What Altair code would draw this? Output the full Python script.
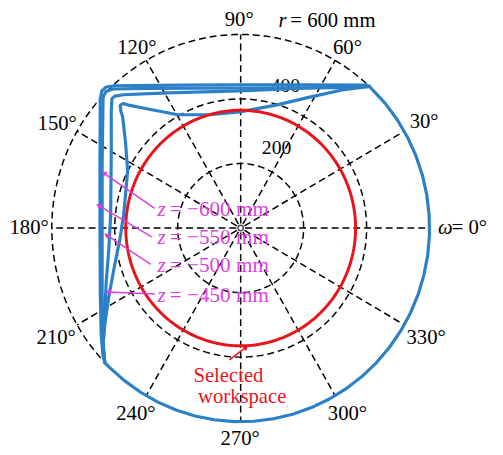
import math
import altair as alt
import pandas as pd
import numpy as np

# ---------------- data (mm, polar plot shown in Cartesian mm) ----------------
ring_r = [200, 400, 600]
spoke_deg = [0, 30, 60, 90, 120, 150, 180, 210, 240, 270, 300, 330]
ring_label_text = ["200", "400"]
ring_label_x = [114.1, 142.2]
ring_label_y = [247.0, 440.0]

angle_text = ["90°", "60°", "30°", "330°", "300°", "270°", "240°", "210°", "180°", "150°", "120°"]
angle_x = [-4.7, 339.1, 582.8, 589.1, 339.1, -1.6, -332.8, -585.9, -672.0, -582.8, -329.7]
angle_y = [645.0, 557.9, 329.3, -341.5, -576.2, -655.5, -576.2, -341.5, 0.0, 323.2, 557.9]

# outer reach boundary (shared by all z levels): omega in deg, r in mm
arc_omega = [47, 40, 34, 28, 22, 16, 10, 4, -2, -8, -14, -20, -26, -32, -38, -44, -50,
             -56, -62, -68, -74, -80, -86, -92, -98, -104, -110, -116, -122, -128, -134, -136]
arc_r = [600] * len(arc_omega)

# inner (cut) boundaries for each z level, Cartesian mm
zA_x = [409.2, 400, 200, 0, -200, -400, -428, -441, -446, -447, -447, -446, -443, -438, -431.6]
zA_y = [438.8, 443, 444, 444, 443, 441, 437, 425, 400, 200, 0, -200, -330, -390, -416.8]
zB_x = [409.2, 300, 0, -300, -405, -428, -437, -440, -440, -440, -438, -434, -431.6]
zB_y = [438.8, 435, 434, 433, 431, 423, 405, 200, 0, -200, -340, -400, -416.8]
zC_x = [409.2, 216, -3, -231, -372, -400, -409, -411, -411, -413, -419, -427, -434, -437, -431.6]
zC_y = [438.8, 434, 425, 419, 413, 409, 401, 360, 238, 40, -67, -165, -311, -372, -416.8]
zD_x = [409.2, 322, 216, 112, -3, -97, -200, -294, -356, -374, -383, -380, -375, -366,
        -359, -366, -372, -384, -400, -419, -431, -437, -431.6]
zD_y = [438.8, 428, 405, 381, 360, 351, 351, 369, 381, 386, 380, 360, 345, 268,
        177, 101, 40, -37, -113, -213, -296, -357, -416.8]

selected_r = 365

z_labels = ["= −600 mm", "= −550 mm", "= −500 mm", "= −450 mm"]
z_label_y = [54.9, -30.5, -118.9, -210.4]
z_italic_x = -264.0
z_rest_x = -225.0
z_arrow_x0 = [-273.4, -282.8, -285.9, -273.4]
z_arrow_y0 = [61.0, -27.4, -112.8, -204.3]
z_arrow_x1 = [-435.9, -451.6, -426.6, -420.3]
z_arrow_y1 = [170.7, 70.1, -21.3, -198.2]

ws_text = ["Selected", "workspace"]
ws_x = [-39.0, 4.7]
ws_y = [-457.3, -524.4]
ws_arrow = [(-35.9, -408.5), (17.2, -368.9)]

# ---------------- layout ----------------
W, H = 495, 447
PXX, PXY = 0.32, 0.328          # px per mm horizontally / vertically
XMIN = -236.5 / PXX
XMAX = XMIN + W / PXX
YMAX = 220.0 / PXY
YMIN = YMAX - H / PXY

xs = alt.Scale(domain=[XMIN, XMAX], nice=False, zero=False)
ys = alt.Scale(domain=[YMIN, YMAX], nice=False, zero=False)
FONT = "Liberation Serif"
BLUE = "#2b80c8"
RED = "#e8141c"
MAG = "#dc3fdc"


def X(f="x"):
    return alt.X(f"{f}:Q", scale=xs, axis=None)


def Y(f="y"):
    return alt.Y(f"{f}:Q", scale=ys, axis=None)


# grid rings
rows = []
for r in ring_r:
    for i, a in enumerate(range(0, 361, 2)):
        t = math.radians(a)
        rows.append({"g": r, "i": i, "x": r * math.cos(t), "y": r * math.sin(t)})
rings = pd.DataFrame(rows)
ring_layer = alt.Chart(rings).mark_line(color="black", strokeWidth=1.5, strokeDash=[7, 4]).encode(
    x=X(), y=Y(), detail="g:N", order="i:Q")

# spokes
sp = []
for a in spoke_deg:
    t = math.radians(a)
    sp.append({"g": a, "i": 0, "x": 14 * math.cos(t), "y": 14 * math.sin(t)})
    sp.append({"g": a, "i": 1, "x": 600 * math.cos(t), "y": 600 * math.sin(t)})
spokes = pd.DataFrame(sp)
spoke_layer = alt.Chart(spokes).mark_line(color="black", strokeWidth=1.5, strokeDash=[7, 4]).encode(
    x=X(), y=Y(), detail="g:N", order="i:Q")

center_layer = alt.Chart(pd.DataFrame({"x": [0.0], "y": [0.0]})).mark_point(
    shape="circle", size=30, filled=False, color="black", strokeWidth=1.5).encode(x=X(), y=Y())

# ring labels
rl = pd.DataFrame({"x": ring_label_x, "y": ring_label_y, "t": ring_label_text})
ring_label_layer = alt.Chart(rl).mark_text(font=FONT, fontSize=20, color="black",
                                           align="center", baseline="middle").encode(
    x=X(), y=Y(), text="t:N")

# angle labels
al = pd.DataFrame({"x": angle_x, "y": angle_y, "t": angle_text})
angle_layer = alt.Chart(al).mark_text(font=FONT, fontSize=21, color="black",
                                      align="center", baseline="middle").encode(
    x=X(), y=Y(), text="t:N")

misc_it = pd.DataFrame({"x": [626.6, 120.3], "y": [0.0, 642.0], "t": ["ω", "r"]})
misc_it_layer = alt.Chart(misc_it).mark_text(font=FONT, fontSize=21, fontStyle="italic",
                                             color="black", align="left", baseline="middle").encode(
    x=X(), y=Y(), text="t:N")
misc_rest = pd.DataFrame({"x": [670.3, 157.8], "y": [0.0, 642.0], "t": ["= 0°", "= 600 mm"]})
misc_rest_layer = alt.Chart(misc_rest).mark_text(font=FONT, fontSize=21, color="black",
                                                 align="left", baseline="middle").encode(
    x=X(), y=Y(), text="t:N")

# blue workspace boundaries
brows = []
for i, (a, r) in enumerate(zip(arc_omega, arc_r)):
    t = math.radians(a)
    brows.append({"g": "arc", "i": i, "x": r * math.cos(t), "y": r * math.sin(t)})
for name, xx, yy in [("A", zA_x, zA_y), ("B", zB_x, zB_y), ("C", zC_x, zC_y), ("D", zD_x, zD_y)]:
    for i, (a, b) in enumerate(zip(xx, yy)):
        brows.append({"g": name, "i": i, "x": a, "y": b})
blue = pd.DataFrame(brows)
blue_layer = alt.Chart(blue).mark_line(color=BLUE, strokeWidth=3.2, strokeJoin="round",
                                       strokeCap="round").encode(
    x=X(), y=Y(), detail="g:N", order="i:Q")

# red selected workspace
rrows = []
for i, a in enumerate(range(0, 361, 2)):
    t = math.radians(a)
    rrows.append({"i": i, "x": selected_r * math.cos(t), "y": selected_r * math.sin(t)})
red_layer = alt.Chart(pd.DataFrame(rrows)).mark_line(color=RED, strokeWidth=3).encode(
    x=X(), y=Y(), order="i:Q")


def head_angle(x0, y0, x1, y1):
    dx = (x1 - x0) * PXX
    dy = -(y1 - y0) * PXY
    return math.degrees(math.atan2(dx, -dy)) % 360


# magenta arrows and labels
arr = pd.DataFrame({"x": z_arrow_x0, "y": z_arrow_y0, "x2": z_arrow_x1, "y2": z_arrow_y1})
arr["ang"] = [head_angle(a, b, c, d) for a, b, c, d in zip(z_arrow_x0, z_arrow_y0, z_arrow_x1, z_arrow_y1)]
mag_rule = alt.Chart(arr).mark_rule(color=MAG, strokeWidth=1.5).encode(
    x=X("x"), y=Y("y"), x2="x2:Q", y2="y2:Q")
mag_head = alt.Chart(arr).mark_point(shape="triangle-up", filled=True, color=MAG, size=40,
                                     opacity=1).encode(
    x=X("x2"), y=Y("y2"), angle=alt.Angle("ang:Q", scale=None))
zl = pd.DataFrame({"y": z_label_y, "t": z_labels})
zl["xi"] = z_italic_x
zl["xr"] = z_rest_x
zl["z"] = "z"
z_it_layer = alt.Chart(zl).mark_text(font=FONT, fontSize=21.5, fontStyle="italic", color=MAG,
                                     align="left", baseline="middle").encode(
    x=X("xi"), y=Y(), text="z:N")
z_rest_layer = alt.Chart(zl).mark_text(font=FONT, fontSize=21.5, color=MAG,
                                       align="left", baseline="middle").encode(
    x=X("xr"), y=Y(), text="t:N")

# red annotation
wa = pd.DataFrame({"x": [ws_arrow[0][0]], "y": [ws_arrow[0][1]],
                   "x2": [ws_arrow[1][0]], "y2": [ws_arrow[1][1]]})
wa["ang"] = [head_angle(ws_arrow[0][0], ws_arrow[0][1], ws_arrow[1][0], ws_arrow[1][1])]
ws_rule = alt.Chart(wa).mark_rule(color=RED, strokeWidth=1.5).encode(
    x=X("x"), y=Y("y"), x2="x2:Q", y2="y2:Q")
ws_head = alt.Chart(wa).mark_point(shape="triangle-up", filled=True, color=RED, size=40,
                                   opacity=1).encode(
    x=X("x2"), y=Y("y2"), angle=alt.Angle("ang:Q", scale=None))
wt = pd.DataFrame({"x": ws_x, "y": ws_y, "t": ws_text})
ws_text_layer = alt.Chart(wt).mark_text(font=FONT, fontSize=21, color=RED,
                                        align="center", baseline="middle").encode(
    x=X(), y=Y(), text="t:N")

chart = alt.layer(
    ring_layer, spoke_layer, center_layer, ring_label_layer,
    angle_layer, misc_it_layer, misc_rest_layer,
    blue_layer, red_layer,
    mag_rule, mag_head, z_it_layer, z_rest_layer,
    ws_rule, ws_head, ws_text_layer,
).properties(
    width=W, height=H, padding=0,
    autosize=alt.AutoSizeParams(type="none"),
).configure_view(stroke=None)

chart.save("out.html", embed_options={"renderer": "svg", "actions": False})
